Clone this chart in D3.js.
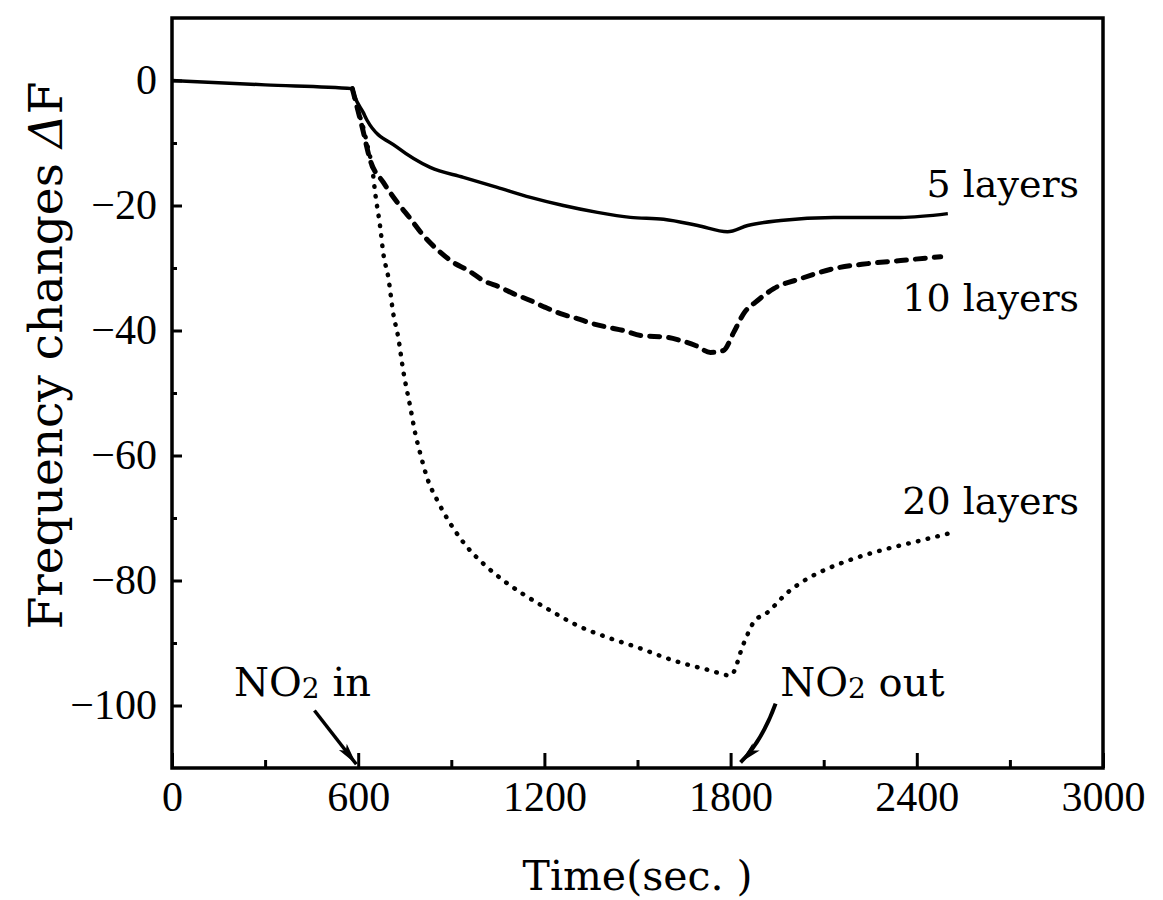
<!DOCTYPE html>
<html>
<head>
<meta charset="utf-8">
<script src="https://cdn.jsdelivr.net/npm/d3@7"></script>
<style>
  html, body { margin: 0; padding: 0; background: #fff; }
  svg { display: block; }
</style>
</head>
<body>
<script>
// ---------- data ----------
const time5 = [0, 300, 581, 590, 616, 629, 726, 832, 939, 1048, 1155, 1261, 1371, 1477, 1584, 1694, 1790, 1855, 1961, 2132, 2348, 2500];
const dF5   = [0, -0.7, -1.3, -2.7, -5.1, -6.4, -10.7, -13.9, -15.5, -17.1, -18.7, -20.0, -21.1, -21.9, -22.2, -23.2, -24.2, -23.2, -22.4, -21.9, -21.9, -21.3];

const time10 = [581, 613, 639, 681, 726, 768, 810, 858, 906, 955, 1003, 1058, 1100, 1155, 1203, 1252, 1306, 1355, 1406, 1455, 1510, 1597, 1639, 1687, 1735, 1777, 1810, 1842, 1887, 1939, 2026, 2132, 2242, 2348, 2477];
const dF10   = [-1.3, -7.5, -12.8, -16.3, -19.5, -22.1, -24.8, -27.2, -29.1, -30.4, -32.0, -33.1, -34.1, -35.2, -36.3, -37.3, -38.1, -38.9, -39.5, -40.0, -40.8, -41.1, -41.6, -42.4, -43.5, -43.2, -40.3, -37.3, -35.2, -33.3, -31.7, -30.1, -29.3, -28.8, -28.2];

const time20 = [581, 600, 616, 632, 645, 655, 671, 681, 697, 713, 729, 745, 768, 784, 800, 823, 855, 897, 952, 1003, 1068, 1129, 1219, 1306, 1403, 1500, 1616, 1735, 1800, 1842, 1874, 1919, 1984, 2048, 2113, 2197, 2306, 2413, 2500];
const dF20   = [-1.3, -4.8, -7.5, -10.9, -13.9, -18.1, -23.5, -27.7, -31.5, -37.3, -41.1, -46.4, -52.3, -56.5, -59.7, -63.7, -67.2, -70.9, -74.7, -77.3, -80.0, -82.1, -84.8, -87.2, -89.1, -90.7, -92.8, -94.4, -95.2, -90.1, -86.7, -85.1, -81.9, -79.7, -78.1, -76.5, -74.9, -73.6, -72.5];

const seriesNames = ["5 layers", "10 layers", "20 layers"];
const labelTime   = [2923, 2923, 2923];
const labelDF     = [-18.7, -36.8, -69.3];

const xMajorTicks = [0, 600, 1200, 1800, 2400, 3000];
const xMinorTicks = [300, 900, 1500, 2100, 2700];
const yMajorTicks = [0, -20, -40, -60, -80, -100];
const yMinorTicks = [-10, -30, -50, -70, -90];

const xDomain = [0, 3000];
const yDomain = [-110, 10];

const xTitle = "Time(sec. )";
const yTitleMain = "Frequency changes ";
const yTitleDelta = "Δ";
const yTitleEnd = "F";

// annotations: [tailTime, tailDF, headTime, headDF]
const arrowIn  = [459, -100.8, 594, -109.4];
const arrowOut = [1945, -99.7, 1832, -109.1];
const annIn  = { t: 200, f: -98.5 };
const annOut = { t: 1960, f: -98.5 };

// ---------- layout ----------
const W = 1163, H = 900;
const margin = { top: 18, right: 60, bottom: 132, left: 172 };
const iw = W - margin.left - margin.right;
const ih = H - margin.top - margin.bottom;

const svg = d3.select("body").append("svg").attr("width", W).attr("height", H);
const g = svg.append("g").attr("transform", `translate(${margin.left},${margin.top})`);

const x = d3.scaleLinear().domain(xDomain).range([0, iw]);
const y = d3.scaleLinear().domain(yDomain).range([ih, 0]);

const serif = "'DejaVu Serif', serif";
const tickFont = "'Liberation Serif', serif";

// minor x ticks
g.append("g").attr("transform", `translate(0,${ih})`)
  .call(d3.axisBottom(x).tickValues(xMinorTicks).tickSizeInner(-8).tickSizeOuter(0).tickFormat(""))
  .call(a => a.select(".domain").remove())
  .call(a => a.selectAll("line").attr("stroke", "#000").attr("stroke-width", 3));

// major x ticks
g.append("g").attr("transform", `translate(0,${ih})`)
  .call(d3.axisBottom(x).tickValues(xMajorTicks).tickSizeInner(-15).tickSizeOuter(0).tickPadding(13).tickFormat(d3.format("d")))
  .call(a => a.select(".domain").remove())
  .call(a => a.selectAll("line").attr("stroke", "#000").attr("stroke-width", 3))
  .call(a => a.selectAll("text").attr("fill", "#000").style("font-family", tickFont).style("font-size", "42px"));

// minor y ticks
g.append("g")
  .call(d3.axisLeft(y).tickValues(yMinorTicks).tickSizeInner(-5).tickSizeOuter(0).tickFormat(""))
  .call(a => a.select(".domain").remove())
  .call(a => a.selectAll("line").attr("stroke", "#000").attr("stroke-width", 3));

// major y ticks
g.append("g")
  .call(d3.axisLeft(y).tickValues(yMajorTicks).tickSizeInner(-10).tickSizeOuter(0).tickPadding(15)
        .tickFormat(d => d < 0 ? "\u2212" + Math.abs(d) : String(d)))
  .call(a => a.select(".domain").remove())
  .call(a => a.selectAll("line").attr("stroke", "#000").attr("stroke-width", 3))
  .call(a => a.selectAll("text").attr("fill", "#000").style("font-family", tickFont).style("font-size", "42px"));

// frame
g.append("rect").attr("x", 0).attr("y", 0).attr("width", iw).attr("height", ih)
  .attr("fill", "none").attr("stroke", "#000").attr("stroke-width", 3.5);

// lines
const line = d3.line().x(d => x(d[0])).y(d => y(d[1])).curve(d3.curveMonotoneX);
const zip = (a, b) => a.map((v, i) => [v, b[i]]);

g.append("path").datum(zip(time5, dF5)).attr("d", line)
  .attr("fill", "none").attr("stroke", "#000").attr("stroke-width", 3.5);

g.append("path").datum(zip(time10, dF10)).attr("d", line)
  .attr("fill", "none").attr("stroke", "#000").attr("stroke-width", 5)
  .attr("stroke-dasharray", "10,9").attr("stroke-linecap", "round");

g.append("path").datum(zip(time20, dF20)).attr("d", line)
  .attr("fill", "none").attr("stroke", "#000").attr("stroke-width", 4.5)
  .attr("stroke-dasharray", "0.5,9.5").attr("stroke-linecap", "round");

// series labels
g.selectAll(".slabel").data(seriesNames).enter().append("text")
  .attr("class", "slabel")
  .attr("x", (d, i) => x(labelTime[i]))
  .attr("y", (d, i) => y(labelDF[i]))
  .attr("text-anchor", "end")
  .style("font-family", serif).style("font-size", "38px").attr("fill", "#000")
  .text(d => d);

// arrows
const defs = svg.append("defs");
defs.append("marker").attr("id", "ah").attr("viewBox", "0 0 22 12")
  .attr("refX", 22).attr("refY", 6).attr("markerWidth", 22).attr("markerHeight", 12)
  .attr("markerUnits", "userSpaceOnUse").attr("orient", "auto")
  .append("path").attr("d", "M0,1 L22,6 L0,11 L5,6 Z").attr("fill", "#000");

g.append("line")
  .attr("x1", x(arrowIn[0])).attr("y1", y(arrowIn[1]))
  .attr("x2", x(arrowIn[2])).attr("y2", y(arrowIn[3]))
  .attr("stroke", "#000").attr("stroke-width", 3.5).attr("marker-end", "url(#ah)");

{
  const x1 = x(arrowOut[0]), y1 = y(arrowOut[1]), x2 = x(arrowOut[2]), y2 = y(arrowOut[3]);
  const cx = (x1 + x2) / 2 + 4, cy = (y1 + y2) / 2 + 8;
  g.append("path").attr("d", `M${x1},${y1} Q${cx},${cy} ${x2},${y2}`)
    .attr("fill", "none").attr("stroke", "#000").attr("stroke-width", 4).attr("marker-end", "url(#ah)");
}

// annotation texts with subscript
function no2(t, f, rest) {
  const tx = g.append("text").attr("x", x(t)).attr("y", y(f))
    .style("font-family", serif).style("font-size", "40px").attr("fill", "#000");
  tx.append("tspan").text("NO");
  tx.append("tspan").text("2").style("font-size", "28px").attr("dy", 2);
  tx.append("tspan").text(rest).attr("dy", -2);
}
no2(annIn.t, annIn.f, " in");
no2(annOut.t, annOut.f, " out");

// axis titles
svg.append("text")
  .attr("x", margin.left + x(1500)).attr("y", 890)
  .attr("text-anchor", "middle")
  .style("font-family", serif).style("font-size", "41px").attr("fill", "#000")
  .text(xTitle);

const yt = svg.append("text")
  .attr("transform", `translate(62,${margin.top + y(-44)}) rotate(-90)`)
  .attr("text-anchor", "middle")
  .style("font-family", serif).style("font-size", "47px").attr("fill", "#000");
yt.append("tspan").text(yTitleMain);
yt.append("tspan").text(yTitleDelta).style("font-style", "italic");
yt.append("tspan").text(yTitleEnd);
</script>
</body>
</html>
